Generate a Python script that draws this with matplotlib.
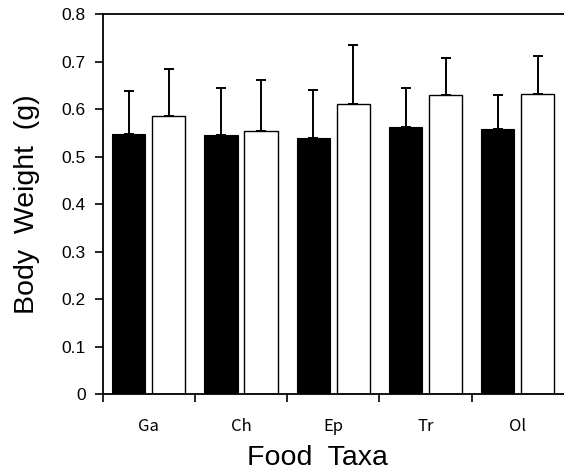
import matplotlib
matplotlib.use("Agg")
import matplotlib.pyplot as plt
import numpy as np

categories = ["Ga", "Ch", "Ep", "Tr", "Ol"]
black_means = [0.548, 0.545, 0.539, 0.562, 0.559]
black_err = [0.091, 0.099, 0.102, 0.082, 0.070]
white_means = [0.586, 0.553, 0.611, 0.629, 0.632]
white_err = [0.099, 0.108, 0.124, 0.079, 0.080]
yticks = [0, 0.1, 0.2, 0.3, 0.4, 0.5, 0.6, 0.7, 0.8]
ytick_labels = ["0", "0.1", "0.2", "0.3", "0.4", "0.5", "0.6", "0.7", "0.8"]

plt.rcParams['font.family'] = ['Liberation Sans', 'DejaVu Sans']

fig = plt.figure(figsize=(5.64, 4.73), dpi=100)
ax = fig.add_axes([0.182, 0.167, 0.818, 0.803])

n = len(categories)
idx = np.arange(n)
w = 0.36
xb = idx + 0.283
xw = idx + 0.716

ax.bar(xb, black_means, width=w, color='black', edgecolor='black', linewidth=0.8, zorder=2)
ax.bar(xw, white_means, width=w, color='white', edgecolor='black', linewidth=1.0, zorder=2)
ax.errorbar(xb, black_means, yerr=[np.zeros(n), black_err], fmt='none', ecolor='black',
            elinewidth=1.4, capsize=3.3, capthick=1.4, zorder=1)
ax.errorbar(xw, white_means, yerr=[np.zeros(n), white_err], fmt='none', ecolor='black',
            elinewidth=1.4, capsize=3.3, capthick=1.4, zorder=1)

ax.set_xlim(0, n)
ax.set_ylim(0, 0.8)
ax.set_yticks(yticks)
ax.set_yticklabels(ytick_labels, fontsize=12.5)
ax.set_xticks(np.arange(n))
ax.set_xticklabels([])
ax.set_xticks(idx + 0.5, minor=True)
ax.set_xticklabels(categories, minor=True, fontsize=12, family=['Noto Sans CJK JP', 'DejaVu Sans'])
ax.tick_params(axis='x', which='major', direction='out', length=6, width=1.2)
ax.tick_params(axis='x', which='minor', length=0, pad=17)
ax.tick_params(axis='y', direction='out', length=6, width=1.2, pad=6)

for s in ['left', 'top', 'bottom']:
    ax.spines[s].set_linewidth(1.3)
ax.spines['right'].set_visible(False)

ax.set_ylabel("Body  Weight  (g)", fontsize=20.5, labelpad=16)
ax.set_xlabel("Food  Taxa", fontsize=20.5)
ax.xaxis.set_label_coords(0.465, -0.135)

fig.savefig("out.png", dpi=100)
